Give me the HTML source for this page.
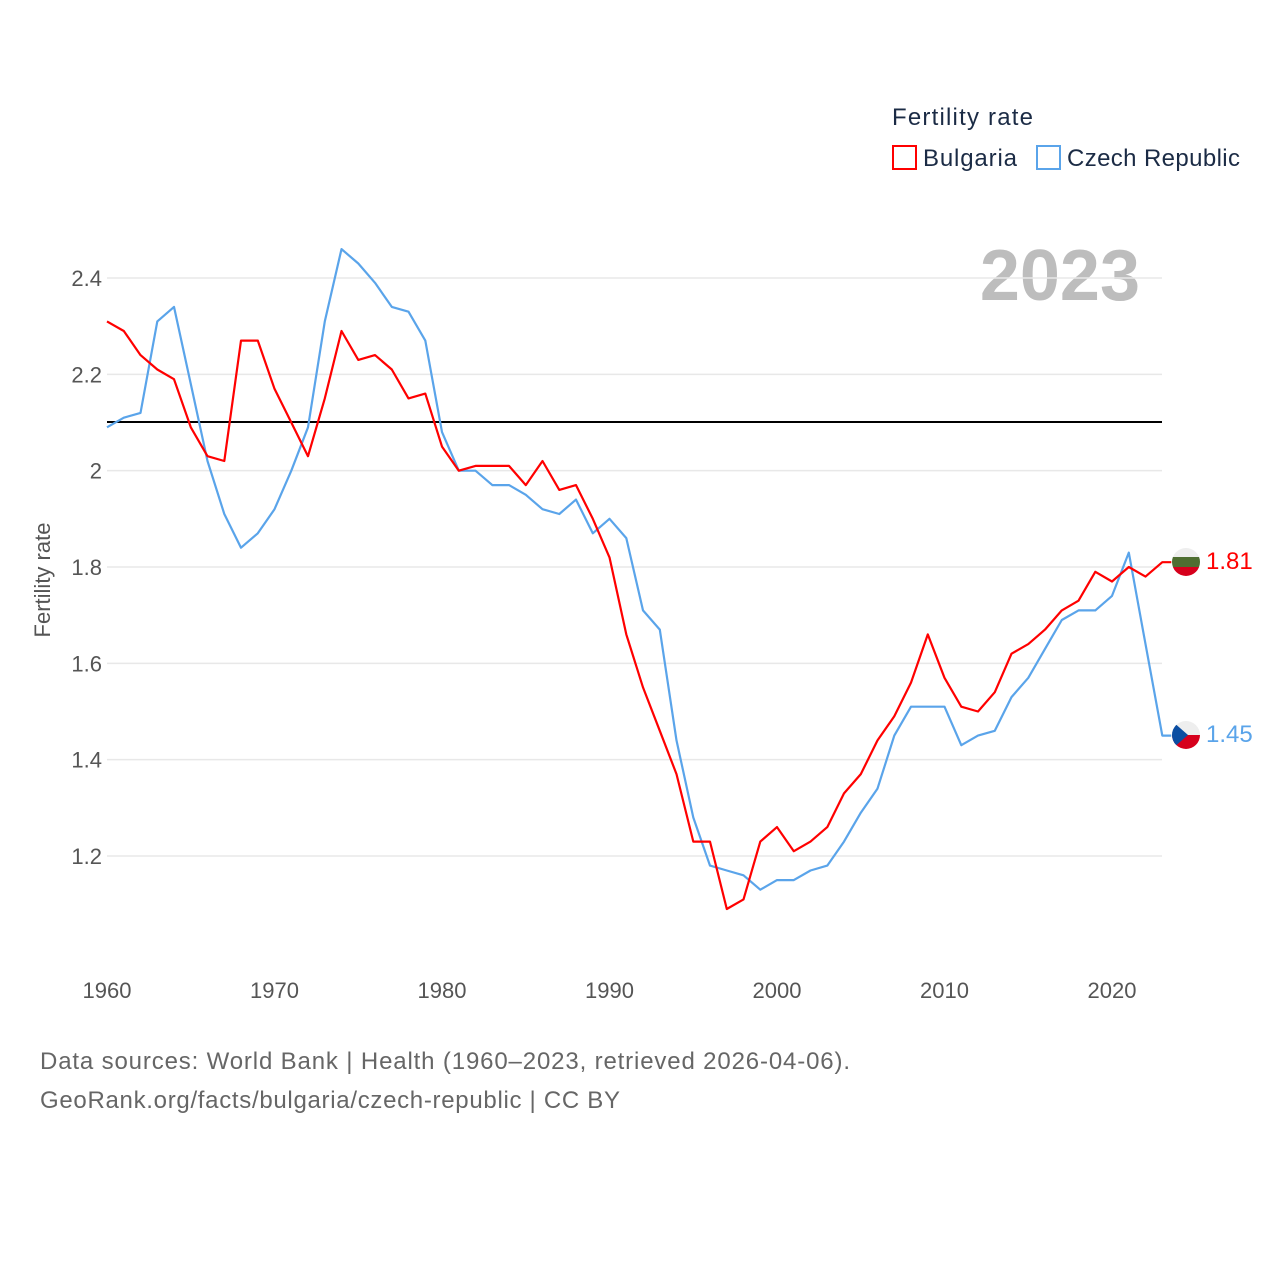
<!DOCTYPE html>
<html><head><meta charset="utf-8"><style>
body{margin:0;background:#fff;font-family:"Liberation Sans",sans-serif;}
</style></head><body>
<svg id="chart" width="1280" height="1280" xmlns="http://www.w3.org/2000/svg" style="font-family:'Liberation Sans',sans-serif">
<text x="892" y="125" font-size="24" fill="#1b2b45" textLength="141">Fertility rate</text>
<rect x="893" y="146" width="23" height="23" fill="none" stroke="#ff0000" stroke-width="2"/>
<text x="923" y="166" font-size="24" fill="#1b2b45" textLength="94">Bulgaria</text>
<rect x="1037" y="146" width="23" height="23" fill="none" stroke="#5aa4ea" stroke-width="2"/>
<text x="1067" y="166" font-size="24" fill="#1b2b45" textLength="173">Czech Republic</text>
<text x="1140" y="300" font-size="72" font-weight="bold" fill="#bdbdbd" text-anchor="end">2023</text>
<text transform="translate(50,580) rotate(-90)" font-size="22" fill="#555" text-anchor="middle">Fertility rate</text>
<g id="grid"></g><g id="yt"></g><g id="xt"></g>
<line x1="107" x2="1162" y1="422" y2="422" stroke="#000" stroke-width="2"/>
<g id="lines"></g>
<g>
<clipPath id="cb"><circle cx="1186" cy="562" r="14"/></clipPath>
<g clip-path="url(#cb)"><rect x="1172" y="548" width="28" height="10" fill="#eee"/><rect x="1172" y="557" width="28" height="10" fill="#4e6e31"/><rect x="1172" y="567" width="28" height="10" fill="#d6001c"/></g></g>
<text x="1206" y="569" font-size="24" fill="#ff0000">1.81</text>
<g>
<clipPath id="cc"><circle cx="1186" cy="735" r="14"/></clipPath>
<g clip-path="url(#cc)"><rect x="1172" y="721" width="28" height="14" fill="#eee"/><rect x="1172" y="735" width="28" height="14" fill="#d6001c"/><polygon points="1172,721 1188,735 1172,749" fill="#0b4ea2"/></g></g>
<text x="1206" y="742" font-size="24" fill="#5aa4ea">1.45</text>
<text x="40" y="1069" font-size="24" fill="#666" textLength="810">Data sources: World Bank | Health (1960–2023, retrieved 2026-04-06).</text>
<text x="40" y="1108" font-size="24" fill="#666" textLength="580">GeoRank.org/facts/bulgaria/czech-republic | CC BY</text>
</svg>
<script>
const years=[];for(let y=1960;y<=2023;y++)years.push(y);
const bulgaria=[2.31,2.29,2.24,2.21,2.19,2.09,2.03,2.02,2.27,2.27,2.17,2.10,2.03,2.15,2.29,2.23,2.24,2.21,2.15,2.16,2.05,2.00,2.01,2.01,2.01,1.97,2.02,1.96,1.97,1.90,1.82,1.66,1.55,1.46,1.37,1.23,1.23,1.09,1.11,1.23,1.26,1.21,1.23,1.26,1.33,1.37,1.44,1.49,1.56,1.66,1.57,1.51,1.50,1.54,1.62,1.64,1.67,1.71,1.73,1.79,1.77,1.80,1.78,1.81];
const czech=[2.09,2.11,2.12,2.31,2.34,2.18,2.02,1.91,1.84,1.87,1.92,2.00,2.09,2.31,2.46,2.43,2.39,2.34,2.33,2.27,2.08,2.00,2.00,1.97,1.97,1.95,1.92,1.91,1.94,1.87,1.90,1.86,1.71,1.67,1.44,1.28,1.18,1.17,1.16,1.13,1.15,1.15,1.17,1.18,1.23,1.29,1.34,1.45,1.51,1.51,1.51,1.43,1.45,1.46,1.53,1.57,1.63,1.69,1.71,1.71,1.74,1.83,1.64,1.45];
const yTicks=[1.2,1.4,1.6,1.8,2,2.2,2.4];
const yTickLabels=["1.2","1.4","1.6","1.8","2","2.2","2.4"];
const xTicks=[1960,1970,1980,1990,2000,2010,2020];
const X=y=>107+(y-1960)*16.75;
const Y=v=>278+(2.4-v)*481.67;
const NS="http://www.w3.org/2000/svg";
function mk(t,a,p){const e=document.createElementNS(NS,t);for(const k in a)e.setAttribute(k,a[k]);p.appendChild(e);return e;}
const grid=document.getElementById('grid'),yt=document.getElementById('yt'),xt=document.getElementById('xt'),lines=document.getElementById('lines');
yTicks.forEach((v,i)=>{
 const l=mk('line',{x1:107,x2:1162,y1:Y(v),y2:Y(v),stroke:'#e8e8e8','stroke-width':1.5},grid);
 
 
 const t=mk('text',{x:102,y:Y(v)+8,'font-size':22,fill:'#555','text-anchor':'end'},yt);
 t.textContent=yTickLabels[i];
 
 
});
xTicks.forEach(y=>{
 const t=mk('text',{x:X(y),y:998,'font-size':22,fill:'#555','text-anchor':'middle'},xt);
 t.textContent=y;
 
 
});
function line(vals,col,name){
 let d=vals.map((v,i)=>(i?'L':'M')+X(years[i]).toFixed(1)+','+Y(v).toFixed(1)).join(' ');
 d+=' L'+(X(years[years.length-1])+9).toFixed(1)+','+Y(vals[vals.length-1]).toFixed(1);
 const p=mk('path',{d:d,fill:'none',stroke:col,'stroke-width':2.2,'stroke-linejoin':'round'},lines);
 
 
}
line(czech,'#5aa4ea','line-czech-republic');
line(bulgaria,'#ff0000','line-bulgaria');
</script>
</body></html>
